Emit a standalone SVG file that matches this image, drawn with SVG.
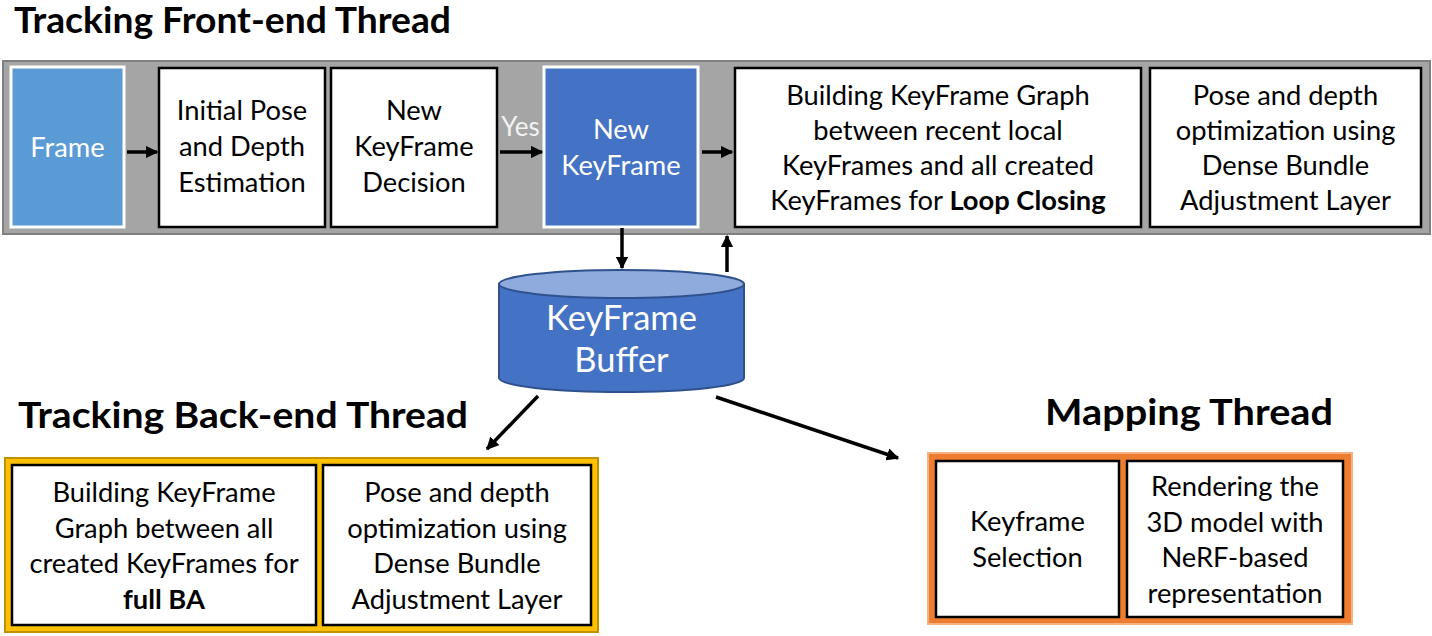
<svg xmlns="http://www.w3.org/2000/svg" width="1432" height="636" viewBox="0 0 1432 636">
<defs>
<style>
.t{font-family:Lato,"Liberation Sans",sans-serif;font-size:27.3px;fill:#000;text-anchor:middle}
.w{fill:#fff}
.big{font-size:34.5px}
.h{font-family:Lato,"Liberation Sans",sans-serif;font-weight:bold;font-size:37px;fill:#000}
.box{fill:#fff;stroke:#000;stroke-width:2.5}
.c{stroke:#000;stroke-width:3.5;fill:none;marker-end:url(#ah)}
</style>
<marker id="ah" viewBox="0 0 10 10" refX="9" refY="5" markerWidth="3.6" markerHeight="3.6" orient="auto" markerUnits="strokeWidth">
<path d="M0,0 L10,5 L0,10 z" fill="#000"/>
</marker>
</defs>
<rect width="1432" height="636" fill="#fff"/>
<g id="titles">
<text class="h" x="14" y="33" textLength="437" lengthAdjust="spacingAndGlyphs">Tracking Front-end Thread</text>
<text class="h" x="18" y="428" textLength="450" lengthAdjust="spacingAndGlyphs">Tracking Back-end Thread</text>
<text class="h" x="1045" y="425" textLength="288" lengthAdjust="spacingAndGlyphs">Mapping Thread</text>
</g>
<g id="frontend-band">
<rect x="3" y="61" width="1427" height="173" fill="#a5a5a5" stroke="#7f7f7f" stroke-width="2"/>
</g>
<g id="frame">
<rect x="11" y="67" width="113" height="160" fill="#5b9bd5" stroke="#fff" stroke-width="3"/>
<text class="t w" x="67.5" y="157">Frame</text>
</g>
<g id="initial-pose">
<rect class="box" x="159" y="68" width="166" height="159"/>
<text class="t" x="242" y="120">Initial Pose</text>
<text class="t" x="242" y="156">and Depth</text>
<text class="t" x="242" y="192">Estimation</text>
</g>
<g id="keyframe-decision">
<rect class="box" x="331" y="68" width="166" height="159"/>
<text class="t" x="414" y="120">New</text>
<text class="t" x="414" y="156">KeyFrame</text>
<text class="t" x="414" y="192">Decision</text>
</g>
<g id="new-keyframe">
<rect x="544" y="67" width="154" height="160" fill="#4472c4" stroke="#fff" stroke-width="3"/>
<text class="t w" x="621" y="139">New</text>
<text class="t w" x="621" y="175">KeyFrame</text>
</g>
<g id="loop-closing">
<rect class="box" x="735" y="68" width="406" height="159"/>
<text class="t" x="938" y="105">Building KeyFrame Graph</text>
<text class="t" x="938" y="140">between recent local</text>
<text class="t" x="938" y="175">KeyFrames and all created</text>
<text class="t" x="938" y="210">KeyFrames for <tspan font-weight="bold">Loop Closing</tspan></text>
</g>
<g id="local-ba">
<rect class="box" x="1150" y="68" width="271" height="159"/>
<text class="t" x="1285.5" y="105">Pose and depth</text>
<text class="t" x="1285.5" y="140">optimization using</text>
<text class="t" x="1285.5" y="175">Dense Bundle</text>
<text class="t" x="1285.5" y="210">Adjustment Layer</text>
</g>
<g id="keyframe-buffer">
<path d="M499,284 L499,378 A122.5,14 0 0 0 744,378 L744,284 Z" fill="#4472c4" stroke="#2f528f" stroke-width="2"/>
<ellipse cx="621.5" cy="284" rx="122.5" ry="14" fill="#8faadc" stroke="#2f528f" stroke-width="2"/>
<text class="t w big" x="621.5" y="330">KeyFrame</text>
<text class="t w big" x="621.5" y="372">Buffer</text>
</g>
<g id="backend-band">
<rect x="5" y="458" width="593" height="174" fill="#ffc000" stroke="#bf9000" stroke-width="2"/>
</g>
<g id="full-ba-graph">
<rect class="box" x="12" y="465" width="304" height="160"/>
<text class="t" x="164" y="502">Building KeyFrame</text>
<text class="t" x="164" y="538">Graph between all</text>
<text class="t" x="164" y="573">created KeyFrames for</text>
<text class="t" x="164" y="609" font-weight="bold">full BA</text>
</g>
<g id="global-ba">
<rect class="box" x="323" y="465" width="268" height="160"/>
<text class="t" x="457" y="502">Pose and depth</text>
<text class="t" x="457" y="538">optimization using</text>
<text class="t" x="457" y="573">Dense Bundle</text>
<text class="t" x="457" y="609">Adjustment Layer</text>
</g>
<g id="mapping-band">
<rect x="928" y="453" width="424" height="171" fill="#ed7d31" stroke="#f4b183" stroke-width="2"/>
</g>
<g id="keyframe-selection">
<rect class="box" x="936" y="461" width="183" height="156"/>
<text class="t" x="1027.5" y="531">Keyframe</text>
<text class="t" x="1027.5" y="567">Selection</text>
</g>
<g id="nerf-render">
<rect class="box" x="1127" y="461" width="216" height="156"/>
<text class="t" x="1235" y="496">Rendering the</text>
<text class="t" x="1235" y="532">3D model with</text>
<text class="t" x="1235" y="567">NeRF-based</text>
<text class="t" x="1235" y="603">representation</text>
</g>
<g id="connectors">
<line class="c" x1="127" y1="152" x2="157" y2="152"/>
<line class="c" x1="500" y1="152" x2="542" y2="152"/>
<text class="t" x="520.5" y="136" style="fill:#f2f2f2;font-size:26px">Yes</text>
<line class="c" x1="702" y1="152" x2="732" y2="152"/>
<line class="c" x1="622" y1="228" x2="622" y2="268"/>
<line class="c" x1="727" y1="272" x2="727" y2="236"/>
<line class="c" x1="538" y1="396" x2="487" y2="449"/>
<line class="c" x1="716" y1="397" x2="898" y2="458"/>
</g>
</svg>
